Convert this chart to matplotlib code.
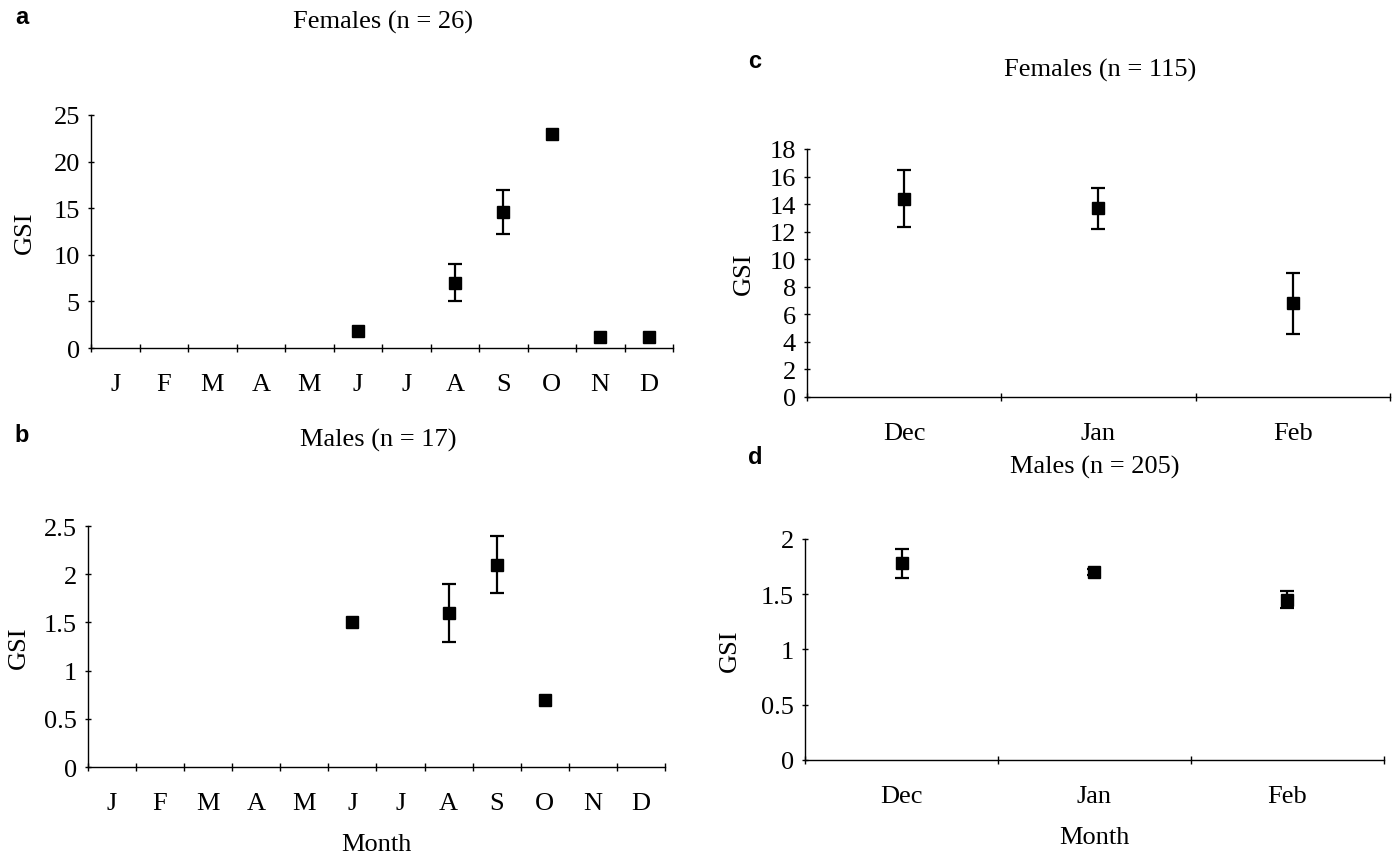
import numpy as np
import matplotlib.pyplot as plt

plt.rcParams["font.family"] = ["Liberation Serif", "DejaVu Serif"]

months = ["J", "F", "M", "A", "M", "J", "J", "A", "S", "O", "N", "D"]
winter = ["Dec", "Jan", "Feb"]

# panel a - females, year round (month index, mean, error)
fem_year_idx = [5, 7, 8, 9, 10, 11]
fem_year_gsi = [1.8, 7.0, 14.6, 23.0, 1.2, 1.2]
fem_year_err = [0.0, 2.0, 2.4, 0.0, 0.0, 0.0]

# panel b - males, year round
male_year_idx = [5, 7, 8, 9]
male_year_gsi = [1.5, 1.6, 2.1, 0.7]
male_year_err = [0.0, 0.3, 0.3, 0.0]

# panel c - females, winter
fem_win_gsi = [14.4, 13.7, 6.8]
fem_win_err = [2.1, 1.5, 2.2]

# panel d - males, winter
male_win_gsi = [1.78, 1.70, 1.45]
male_win_err = [0.13, 0.03, 0.075]


def setup_axis(ax, labels, ylim, yticks):
    n = len(labels)
    ax.set_xlim(-0.5, n - 0.5)
    ax.set_ylim(*ylim)
    ax.spines["top"].set_visible(False)
    ax.spines["right"].set_visible(False)
    ax.spines["left"].set_linewidth(1.0)
    ax.spines["bottom"].set_linewidth(1.0)
    ax.set_xticks(np.arange(n))
    ax.set_xticklabels(labels, fontsize=19)
    ax.tick_params(axis="x", which="major", length=0, pad=18)
    ax.set_xticks(np.arange(n + 1) - 0.5, minor=True)
    ax.tick_params(axis="x", which="minor", length=6, direction="inout", width=1)
    ax.set_yticks(yticks)
    ax.set_yticklabels([f"{v:g}" for v in yticks], fontsize=19)
    ax.tick_params(axis="y", length=4, direction="inout", width=1, pad=6)
    ax.set_ylabel("GSI", fontsize=19)


def draw_points(ax, x, y, err):
    x = np.asarray(x, dtype=float)
    y = np.asarray(y, dtype=float)
    err = np.asarray(err, dtype=float)
    has_err = err > 0
    ax.errorbar(x[has_err], y[has_err], yerr=err[has_err], fmt="none", ecolor="black",
                capsize=5, elinewidth=1.6, capthick=1.6, clip_on=False)
    ax.plot(x, y, "s", color="black", ms=8, clip_on=False, zorder=3)


fig = plt.figure(figsize=(13.94, 8.54), dpi=100)

# a
ax_a = fig.add_axes([0.0653, 0.5913, 0.4175, 0.2729])
setup_axis(ax_a, months, (0, 25), [0, 5, 10, 15, 20, 25])
draw_points(ax_a, fem_year_idx, fem_year_gsi, fem_year_err)
ax_a.yaxis.set_label_coords(-0.095, 0.5)

# b
ax_b = fig.add_axes([0.0631, 0.1007, 0.4139, 0.2822])
setup_axis(ax_b, months, (0, 2.5), [0, 0.5, 1, 1.5, 2, 2.5])
draw_points(ax_b, male_year_idx, male_year_gsi, male_year_err)
ax_b.set_xlabel("Month", fontsize=19, labelpad=14)
ax_b.yaxis.set_label_coords(-0.1, 0.5)

# c
ax_c = fig.add_axes([0.5789, 0.534, 0.4182, 0.2904])
setup_axis(ax_c, winter, (0, 18), list(range(0, 19, 2)))
draw_points(ax_c, np.arange(3), fem_win_gsi, fem_win_err)
ax_c.yaxis.set_label_coords(-0.09, 0.5)

# d
ax_d = fig.add_axes([0.5775, 0.1089, 0.4153, 0.2588])
setup_axis(ax_d, winter, (0, 2), [0, 0.5, 1, 1.5, 2])
draw_points(ax_d, np.arange(3), male_win_gsi, male_win_err)
ax_d.set_xlabel("Month", fontsize=19, labelpad=14)
ax_d.yaxis.set_label_coords(-0.11, 0.5)

# titles
fig.text(383 / 1394, 1 - 22 / 854, "Females (n = 26)", ha="center", va="center", fontsize=19)
fig.text(378 / 1394, 1 - 440 / 854, "Males (n = 17)", ha="center", va="center", fontsize=19)
fig.text(1100 / 1394, 1 - 70 / 854, "Females (n = 115)", ha="center", va="center", fontsize=19)
fig.text(1095 / 1394, 1 - 467 / 854, "Males (n = 205)", ha="center", va="center", fontsize=19)

# panel letters
for lbl, px, py in [("a", 22, 18), ("b", 22, 436), ("c", 755, 62), ("d", 755, 458)]:
    fig.text(px / 1394, 1 - py / 854, lbl, ha="center", va="center", fontsize=17,
             fontweight="bold", family=["Liberation Sans", "DejaVu Sans"])

fig.savefig("out.png", dpi=100)
